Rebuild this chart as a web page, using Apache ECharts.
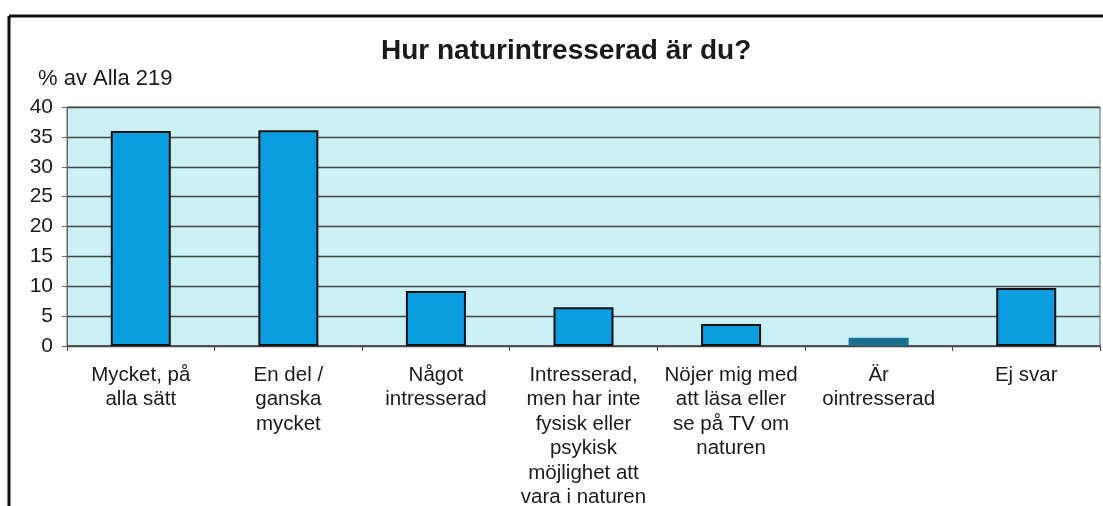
<!DOCTYPE html>
<html>
	<head>
		<meta charset="utf-8">
		<title>Hur naturintresserad är du?</title>
		<script src="https://cdn.jsdelivr.net/npm/echarts@6/dist/echarts.min.js"></script>
		<style>
			html, body { margin: 0; padding: 0; background: #fff; }
		</style>
	</head>
	<body>
		<div id="main" style="width: 1103px; height: 506px;"></div>
		<script>
			var kategorier = [
				'Mycket, på\nalla sätt',
				'En del /\nganska\nmycket',
				'Något\nintresserad',
				'Intresserad,\nmen har inte\nfysisk eller\npsykisk\nmöjlighet att\nvara i naturen',
				'Nöjer mig med\natt läsa eller\nse på TV om\nnaturen',
				'Är\nointresserad',
				'Ej svar'
			];
			var andelar = [36, 36.1, 9.2, 6.5, 3.7, 1.4, 9.7];
			var yTicks = [0, 5, 10, 15, 20, 25, 30, 35, 40];

			var font = '"Liberation Sans", Arial, sans-serif';

			var mychart = echarts.init(document.getElementById('main'));
			var option = {
				backgroundColor: '#fff',
				animation: false,
				title: {
					text: 'Hur naturintresserad är du?',
					left: 376,
					top: 32,
					textStyle: {
						fontFamily: font,
						fontWeight: 'bold',
						fontSize: 28,
						color: '#1a1a1a'
					}
				},
				graphic: [
					// ram runt diagrammet
					{ type: 'line', shape: { x1: 9, y1: 16, x2: 1103, y2: 16 }, style: { stroke: '#111', lineWidth: 3 } },
					{ type: 'line', shape: { x1: 9, y1: 16, x2: 9, y2: 506 }, style: { stroke: '#111', lineWidth: 3 } },
					{ type: 'text', left: 38, top: 68, style: { text: '% av Alla 219', font: '22px ' + font, fill: '#1a1a1a' } }
				],
				grid: {
					left: 67,
					right: 3,
					top: 107,
					bottom: 160,
					outerBoundsMode: 'none',
					show: true,
					backgroundColor: '#c9f1f6',
					borderColor: '#666',
					borderWidth: 1
				},
				xAxis: {
					type: 'category',
					data: kategorier,
					axisLine: { lineStyle: { color: '#444', width: 1.5 } },
					axisTick: { show: true, length: 5, lineStyle: { color: '#444' } },
					axisLabel: {
						interval: 0,
						margin: 17,
						fontFamily: font,
						fontSize: 20.5,
						lineHeight: 24.5,
						color: '#1a1a1a'
					}
				},
				yAxis: {
					type: 'value',
					min: yTicks[0],
					max: yTicks[yTicks.length - 1],
					interval: 5,
					axisLine: { show: true, lineStyle: { color: '#666' } },
					axisTick: { show: true, length: 5, lineStyle: { color: '#666' } },
					axisLabel: {
						margin: 14,
						fontFamily: font,
						fontSize: 21,
						color: '#1a1a1a'
					},
					splitLine: { lineStyle: { color: '#444', width: 1.3 } }
				},
				series: [{
					type: 'bar',
					barWidth: 60,
					data: andelar.map(function (v, i) {
						if (i === 5) {
							return { value: v, itemStyle: { color: '#1d6f92', borderColor: '#1d6f92' } };
						}
						return v;
					}),
					itemStyle: {
						color: '#0b9de0',
						borderColor: '#111',
						borderWidth: 2
					}
				}]
			};
			mychart.setOption(option);
		</script>
	</body>
</html>
